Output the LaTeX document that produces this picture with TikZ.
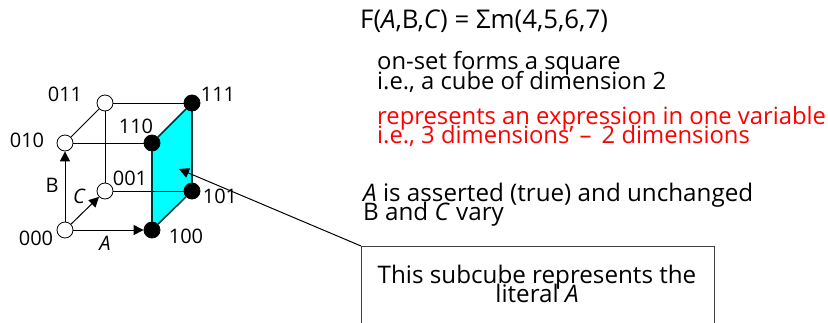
\documentclass[tikz,border=0pt]{standalone}
\usepackage{fontspec}
\setmainfont{Open Sans}
\usetikzlibrary{arrows.meta}
\definecolor{cubecyan}{RGB}{0,255,255}
\definecolor{redtext}{RGB}{255,0,0}
\tikzset{
  x=1pt,y=-1pt,
  vertexon/.style={circle,draw=black,fill=black,minimum size=16pt,inner sep=0pt,line width=.8pt},
  vertexoff/.style={circle,draw=black,fill=white,minimum size=16pt,inner sep=0pt,line width=.8pt},
  edge/.style={draw=black,line width=1pt},
  faceedge/.style={draw=black!80!cubecyan,line width=1.6pt},
  axis/.style={draw=black,line width=1pt,-{Triangle[length=10pt,width=10pt]}},
  txt/.style={anchor=base west,inner sep=0pt,font=\fontsize{23.8}{24}\selectfont},
  ctxt/.style={anchor=base,inner sep=0pt,font=\fontsize{24.2}{24}\selectfont},
  lab/.style={anchor=base,inner sep=0pt,font=\fontsize{20}{21}\selectfont},
}
\begin{document}
\begin{tikzpicture}
\useasboundingbox (0,0) rectangle (828,322);
\clip (0,0) rectangle (828,322);
% face
\coordinate (f1) at (152,143);
\coordinate (f2) at (192,103);
\coordinate (f3) at (192,191);
\coordinate (f4) at (152,230);
\fill[cubecyan] (f1)--(f2)--(f3)--(f4)--cycle;
% vertices
\node[vertexoff] (v000) at (65,230) {};
\node[vertexoff] (v010) at (65,143) {};
\node[vertexoff] (v001) at (105,191) {};
\node[vertexoff] (v011) at (105,103) {};
\node[vertexon] (v100) at (152,230) {};
\node[vertexon] (v110) at (152,143) {};
\node[vertexon] (v101) at (192,191) {};
\node[vertexon] (v111) at (192,103) {};
% edges
\draw[edge] (v010)--(v011);
\draw[edge] (v011)--(v111);
\draw[edge] (v010)--(v110);
\draw[edge] (v011)--(v001);
\draw[edge] (v001)--(v101);
\draw[faceedge] (v110)--(v100);
\draw[faceedge] (v111)--(v101);
\draw[faceedge] (v110)--(v111);
\draw[faceedge] (v100)--(v101);
\draw[axis] (v000)--(v100);
\draw[axis] (v000)--(v010);
\draw[axis] (v000)--(v001);
% vertex labels
\node[lab] (l000) at (36,245) {000};
\node[lab] (l100) at (186,243) {100};
\node[lab] (l010) at (27,147) {010};
\node[lab] (l110) at (136,133) {110};
\node[lab] (l001) at (130,185) {001};
\node[lab] (l101) at (220,203) {101};
\node[lab] (l011) at (65,101) {011};
\node[lab] (l111) at (218,101) {111};
\node[lab] (lb) at (52,192) {B};
\node[lab] (lc) at (79,203) {\itshape C};
\node[lab] (la) at (105,250) {\itshape A};
% text
\node[txt,font=\fontsize{25.8}{26}\selectfont] (t1) at (360,28) {F(\textit{A},B,\textit{C}) = Σm(4,5,6,7)};
\node[txt] (t2) at (377,69) {on-set forms a square};
\node[txt] (t3) at (377,89) {i.e., a cube of dimension 2};
\node[txt,text=redtext] (t4) at (377,124) {represents an expression in one variable};
\node[txt,text=redtext] (t5) at (377,143) {i.e., 3 dimensions' –\, 2 dimensions};
\node[txt,font=\fontsize{24.2}{24}\selectfont] (t6) at (363,201) {\textit{A} is asserted (true) and unchanged};
\node[txt,font=\fontsize{24.2}{24}\selectfont] (t7) at (363,220) {B and \textit{C} vary};
% box
\node[draw=black!75,line width=1pt,fill=white,minimum width=353pt,minimum height=120pt,inner sep=0pt,anchor=north west] (box) at (361,246) {};
\node[ctxt] (t8) at (537,283) {This subcube represents the};
\node[ctxt] (t9) at (537,302) {literal \textit{A}};
\coordinate (tip) at (179,169);
\draw[draw=black,line width=1pt,-{Triangle[length=10pt,width=10pt]}] (box.north west)--(tip);
\end{tikzpicture}
\end{document}
